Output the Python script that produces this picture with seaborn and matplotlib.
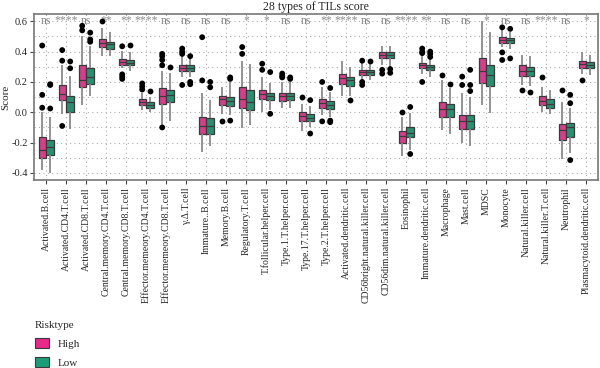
import numpy as np
import pandas as pd
import matplotlib
matplotlib.use("Agg")
import matplotlib.pyplot as plt
from matplotlib.patches import Patch
from matplotlib.ticker import MultipleLocator
import seaborn as sns

# cell types on the x axis
cells = [
    "Activated.B.cell", "Activated.CD4.T.cell", "Activated.CD8.T.cell",
    "Central.memory.CD4.T.cell", "Central.memory.CD8.T.cell",
    "Effector.memeory.CD4.T.cell", "Effector.memeory.CD8.T.cell",
    "γ.Δ.T.cell", "Immature..B.cell", "Memory.B.cell", "Regulatory.T.cell",
    "T.follicular.helper.cell", "Type.1.T.helper.cell", "Type.17.T.helper.cell",
    "Type.2.T.helper.cell", "Activated.dendritic.cell",
    "CD56bright.natural.killer.cell", "CD56dim.natural.killer.cell",
    "Eosinophil", "Immature.dendritic.cell", "Macrophage", "Mast.cell",
    "MDSC", "Monocyte", "Natural.killer.cell", "Natural.killer.T.cell",
    "Neutrophil", "Plasmacytoid.dendritic.cell",
]

signif = ["ns", "****", "ns", "**", "**", "****", "ns", "ns", "ns", "ns",
          "*", "*", "ns", "ns", "**", "****", "ns", "ns", "****", "**",
          "ns", "ns", "*", "ns", "ns", "****", "ns", "*"]

# (whisker low, q1, median, q3, whisker high)
high_stats = [
    (-0.38, -0.30, -0.25, -0.165, 0.00),
    (-0.01, 0.08, 0.12, 0.18, 0.31),
    (0.05, 0.17, 0.215, 0.315, 0.50),
    (0.37, 0.43, 0.46, 0.48, 0.555),
    (0.29, 0.31, 0.33, 0.35, 0.405),
    (0.015, 0.05, 0.065, 0.085, 0.125),
    (-0.085, 0.055, 0.105, 0.16, 0.27),
    (0.235, 0.275, 0.295, 0.315, 0.37),
    (-0.265, -0.145, -0.09, -0.03, 0.125),
    (-0.01, 0.045, 0.085, 0.11, 0.17),
    (-0.105, 0.03, 0.09, 0.165, 0.335),
    (0.00, 0.085, 0.12, 0.15, 0.235),
    (0.025, 0.075, 0.105, 0.13, 0.20),
    (-0.125, -0.06, -0.025, 0.00, 0.055),
    (-0.015, 0.03, 0.06, 0.085, 0.165),
    (0.105, 0.185, 0.225, 0.255, 0.335),
    (0.215, 0.245, 0.265, 0.28, 0.325),
    (0.31, 0.355, 0.38, 0.395, 0.435),
    (-0.29, -0.20, -0.155, -0.125, -0.03),
    (0.255, 0.29, 0.31, 0.325, 0.37),
    (-0.115, -0.03, 0.02, 0.07, 0.21),
    (-0.20, -0.11, -0.06, -0.015, 0.125),
    (0.05, 0.19, 0.27, 0.36, 0.60),
    (0.43, 0.46, 0.475, 0.495, 0.54),
    (0.18, 0.24, 0.275, 0.31, 0.38),
    (0.005, 0.05, 0.075, 0.105, 0.165),
    (-0.305, -0.185, -0.115, -0.075, 0.065),
    (0.255, 0.295, 0.32, 0.34, 0.40),
]

low_stats = [
    (-0.40, -0.28, -0.23, -0.18, -0.03),
    (-0.11, 0.005, 0.07, 0.11, 0.24),
    (0.11, 0.185, 0.23, 0.29, 0.44),
    (0.37, 0.42, 0.45, 0.465, 0.53),
    (0.27, 0.31, 0.325, 0.345, 0.40),
    (0.00, 0.025, 0.05, 0.07, 0.10),
    (-0.055, 0.065, 0.115, 0.15, 0.26),
    (0.23, 0.275, 0.295, 0.31, 0.355),
    (-0.22, -0.14, -0.09, -0.04, 0.08),
    (-0.02, 0.04, 0.075, 0.10, 0.20),
    (-0.085, 0.015, 0.07, 0.145, 0.32),
    (0.015, 0.08, 0.105, 0.13, 0.19),
    (0.03, 0.08, 0.105, 0.13, 0.20),
    (-0.095, -0.06, -0.035, -0.01, 0.04),
    (-0.03, 0.02, 0.05, 0.075, 0.135),
    (0.105, 0.175, 0.21, 0.23, 0.30),
    (0.215, 0.245, 0.265, 0.28, 0.32),
    (0.30, 0.355, 0.38, 0.395, 0.435),
    (-0.25, -0.165, -0.135, -0.10, -0.005),
    (0.235, 0.28, 0.30, 0.31, 0.35),
    (-0.145, -0.03, 0.02, 0.055, 0.16),
    (-0.225, -0.11, -0.06, -0.02, 0.10),
    (-0.005, 0.175, 0.245, 0.31, 0.53),
    (0.415, 0.46, 0.475, 0.49, 0.53),
    (0.175, 0.24, 0.275, 0.30, 0.37),
    (-0.01, 0.03, 0.055, 0.085, 0.15),
    (-0.27, -0.16, -0.10, -0.07, 0.025),
    (0.245, 0.295, 0.315, 0.33, 0.38),
]

high_outliers = [
    [0.03, 0.115, 0.44], [0.41, 0.34, -0.09], [0.57, 0.54], [0.60],
    [0.435, 0.25, 0.235, 0.22], [0.19, 0.17, 0.15], [0.385, 0.37, 0.345, 0.31, -0.10],
    [0.42, 0.40, 0.385, 0.18], [0.495, 0.21], [-0.055], [0.43, 0.385],
    [0.32, 0.28], [0.255, 0.24, 0.23], [0.10], [0.20, -0.06], [],
    [0.34, 0.20, 0.18], [0.28, 0.255], [0.00], [0.42, 0.40, 0.39, 0.20],
    [0.245], [0.235, 0.18], [], [0.56, 0.395, 0.345], [0.145], [0.23],
    [0.145], [0.215],
]

low_outliers = [
    [0.025, 0.18, 0.185], [0.335, 0.29], [0.525, 0.48, 0.465], [],
    [0.445], [0.14], [0.30], [0.37, 0.20, 0.185], [0.20, 0.165],
    [0.23, 0.22, -0.055], [], [0.265, -0.01], [0.23, 0.22],
    [0.08, -0.14], [0.16, -0.055, -0.065], [0.08], [0.34],
    [0.285, 0.26], [0.035, -0.275], [0.40, 0.385, 0.365], [0.185],
    [0.28, 0.18, 0.14], [], [0.55, 0.355], [0.135], [], [0.115, 0.06, -0.315],
    [],
]

groups = ["High", "Low"]
colors = {"High": "#E7298A", "Low": "#1B9E77"}


def build_frames():
    rows, out_rows = [], []
    for cell, hs, ls, ho, lo in zip(cells, high_stats, low_stats,
                                    high_outliers, low_outliers):
        for g, st, ol in (("High", hs, ho), ("Low", ls, lo)):
            for v in st:
                rows.append((cell, g, v))
            for v in ol:
                out_rows.append((cell, g, v))
    cols = ["cell", "Risktype", "Score"]
    return pd.DataFrame(rows, columns=cols), pd.DataFrame(out_rows, columns=cols)


df, outl = build_frames()

sns.set_style("white")
plt.rcParams["font.family"] = ["Liberation Serif", "DejaVu Serif"]
plt.rcParams["axes.unicode_minus"] = False

fig = plt.figure(figsize=(6.0, 3.68), dpi=100)
ax = fig.add_axes([0.057, 0.511, 0.94, 0.451])

sns.boxplot(data=df, x="cell", y="Score", hue="Risktype", order=cells,
            hue_order=groups, palette=colors, whis=(0, 100), showfliers=False,
            width=0.78, gap=0.06, linecolor="#3a3a3a", linewidth=0.9,
            showcaps=False, whiskerprops={"color": "#8a8a8a", "linewidth": 1.3},
            legend=False, ax=ax, zorder=3)
sns.stripplot(data=outl, x="cell", y="Score", hue="Risktype", order=cells,
              hue_order=groups, palette={"High": "black", "Low": "black"},
              dodge=True, jitter=False, size=4.2, legend=False, ax=ax, zorder=4)

ax.set_xlim(-0.6, 27.6)
ax.set_ylim(-0.446, 0.648)
ax.yaxis.set_major_locator(MultipleLocator(0.2))
ax.yaxis.set_minor_locator(MultipleLocator(0.1))
ax.grid(True, which="major", linestyle=(0, (1, 3)), color="#aaaaaa", linewidth=0.8)
ax.grid(True, which="minor", axis="y", linestyle=(0, (1, 3)), color="#aaaaaa", linewidth=0.8)
ax.set_axisbelow(True)

for i, s in enumerate(signif):
    ax.text(i, 0.605, s, ha="center", va="center", fontsize=8.5, color="#8a8a8a")

ax.set_xlabel("")
ax.set_ylabel("Score", fontsize=8)
ax.yaxis.set_label_coords(-0.042, 0.5)
ax.tick_params(axis="x", labelrotation=90, labelsize=7, length=3, width=0.8,
               direction="out", color="#444444", bottom=True, pad=2)
ax.tick_params(axis="y", labelsize=7.5, length=3, width=0.8, direction="out",
               color="#444444", left=True, pad=1.5)
for lab in ax.get_xticklabels():
    lab.set_verticalalignment("top")
for sp in ax.spines.values():
    sp.set_color("#777777")
    sp.set_linewidth(1.2)

ax.set_title("28 types of TILs score", fontsize=8.5, pad=3)

handles = [Patch(facecolor=colors[g], edgecolor="#3a3a3a", linewidth=0.8) for g in groups]
leg = fig.legend(handles, groups, title="Risktype", loc="upper left",
                 bbox_to_anchor=(0.045, 0.15), frameon=False, fontsize=8,
                 title_fontsize=8, handlelength=1.3, handleheight=1.0,
                 labelspacing=0.75, alignment="left", borderpad=0.2)

fig.savefig("out.png", dpi=100)
